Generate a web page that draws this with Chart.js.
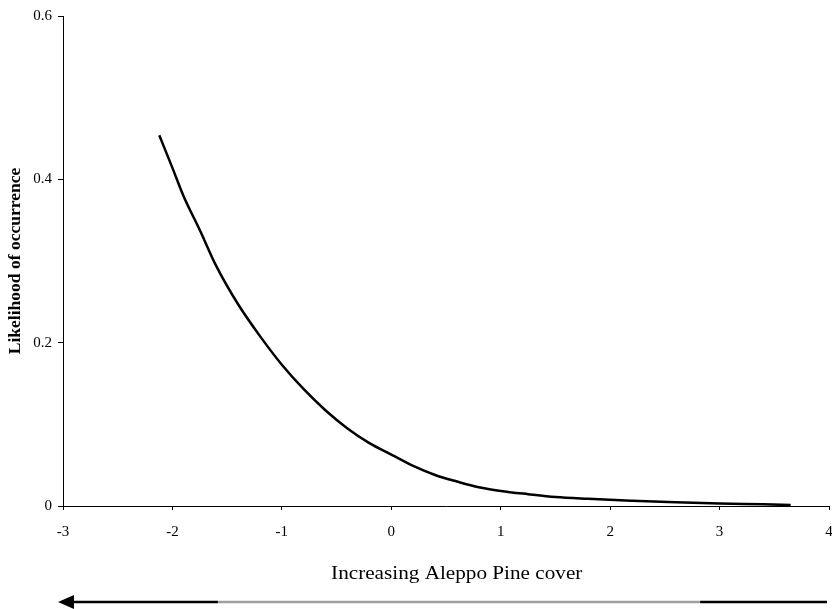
<!DOCTYPE html>
<html>
<head>
<meta charset="utf-8">
<script src="https://cdn.jsdelivr.net/npm/chart.js@4.4.1/dist/chart.umd.min.js"></script>
<style>
  html, body { margin: 0; padding: 0; background: #ffffff; }
  #wrap { width: 832px; height: 609px; position: relative; }
</style>
</head>
<body>
<div id="wrap"><canvas id="c" width="832" height="609"></canvas></div>
<script>
// ---- data ----
const coverValues = [-2.12, -2.0, -1.9, -1.75, -1.6, -1.4, -1.2, -1.0, -0.8, -0.6, -0.4, -0.2, 0.0, 0.2, 0.4, 0.6, 0.8, 1.0, 1.25, 1.5, 1.8, 2.2, 2.6, 3.0, 3.4, 3.65];
const likelihood  = [0.454, 0.414, 0.380, 0.338, 0.294, 0.247, 0.208, 0.173, 0.143, 0.117, 0.095, 0.077, 0.063, 0.049, 0.038, 0.030, 0.023, 0.0185, 0.0145, 0.011, 0.0088, 0.0065, 0.0045, 0.003, 0.002, 0.0012];
const xTickValues = [-3, -2, -1, 0, 1, 2, 3, 4];
const yTickValues = [0, 0.2, 0.4, 0.6];
const xTitle = 'Increasing Aleppo Pine cover';
const yTitle = 'Likelihood of occurrence';

const points = coverValues.map((x, i) => ({ x: x, y: likelihood[i] }));

const serif = "'Liberation Serif', 'Times New Roman', serif";

// x-axis caption (slightly wide type as in the reference) and the direction arrow under it
const captionArrowPlugin = {
  id: 'captionArrow',
  afterDraw(chart) {
    const ctx = chart.ctx;
    const xs = chart.scales.x;
    const x0 = xs.getPixelForValue(-3);
    const x1 = xs.getPixelForValue(4);

    // caption
    ctx.save();
    ctx.font = '19px ' + serif;
    ctx.fillStyle = '#000000';
    ctx.textAlign = 'center';
    ctx.textBaseline = 'alphabetic';
    const w = ctx.measureText(xTitle).width;
    const target = (x1 - x0) * 0.328;
    const cx = x0 + (x1 - x0) * 0.514;
    ctx.translate(cx, 579);
    ctx.scale(target / w, 1);
    ctx.fillText(xTitle, 0, 0);
    ctx.restore();

    // arrow
    const y = 602;
    const left = x0 - 5;
    const right = x1 - 2;
    const span = right - left;
    const b1 = left + span * 0.208;
    const b2 = left + span * 0.835;
    ctx.save();
    ctx.lineWidth = 2.5;
    ctx.lineCap = 'butt';
    ctx.strokeStyle = '#000000';
    ctx.beginPath(); ctx.moveTo(left + 10, y); ctx.lineTo(b1, y); ctx.stroke();
    ctx.strokeStyle = '#a0a0a0';
    ctx.beginPath(); ctx.moveTo(b1, y); ctx.lineTo(b2, y); ctx.stroke();
    ctx.strokeStyle = '#000000';
    ctx.beginPath(); ctx.moveTo(b2, y); ctx.lineTo(right, y); ctx.stroke();
    ctx.fillStyle = '#000000';
    ctx.beginPath();
    ctx.moveTo(left, y);
    ctx.lineTo(left + 16, y - 7);
    ctx.lineTo(left + 16, y + 7);
    ctx.closePath();
    ctx.fill();
    ctx.restore();
  }
};

new Chart(document.getElementById('c'), {
  type: 'scatter',
  data: {
    datasets: [{
      data: points,
      showLine: true,
      borderColor: '#000000',
      borderWidth: 2.5,
      pointRadius: 0,
      pointHoverRadius: 0,
      cubicInterpolationMode: 'monotone',
      fill: false
    }]
  },
  options: {
    responsive: false,
    animation: false,
    events: [],
    layout: { padding: { top: 16, right: 3, bottom: 0, left: 0 } },
    plugins: {
      legend: { display: false },
      tooltip: { enabled: false },
      title: { display: false }
    },
    scales: {
      x: {
        type: 'linear',
        min: -3,
        max: 4,
        afterBuildTicks(scale) { scale.ticks = xTickValues.map(v => ({ value: v })); },
        afterFit(scale) { scale.height = 103; scale.paddingLeft = 0; scale.paddingRight = 0; },
        border: { display: true, color: '#000000', width: 1 },
        grid: { display: true, drawOnChartArea: false, drawTicks: true, tickLength: 4, color: '#000000' },
        ticks: {
          color: '#000000',
          padding: 13,
          maxRotation: 0,
          font: { family: serif, size: 15 }
        },
        title: { display: false, text: xTitle }
      },
      y: {
        type: 'linear',
        min: 0,
        max: 0.6,
        afterBuildTicks(scale) { scale.ticks = yTickValues.map(v => ({ value: v })); },
        afterFit(scale) { scale.width = 63; },
        border: { display: true, color: '#000000', width: 1 },
        grid: { display: true, drawOnChartArea: false, drawTicks: true, tickLength: 5, color: '#000000' },
        ticks: {
          color: '#000000',
          padding: 6,
          font: { family: serif, size: 15 }
        },
        title: {
          display: true,
          text: yTitle,
          color: '#000000',
          font: { family: serif, size: 17.5, weight: 'bold' },
          padding: { top: 5, bottom: 0 }
        }
      }
    }
  },
  plugins: [captionArrowPlugin]
});
</script>
</body>
</html>
